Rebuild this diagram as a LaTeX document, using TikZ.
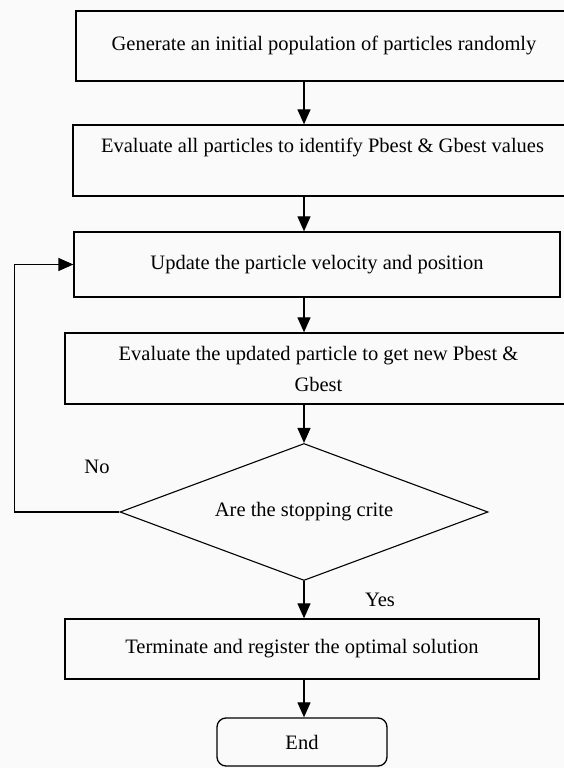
\documentclass[tikz,border=0pt]{standalone}
\usepackage{fontspec}
\setmainfont{Liberation Serif}
\usetikzlibrary{arrows.meta,%
                shapes.geometric}

\begin{document}
\begin{tikzpicture}[x=1pt,y=1pt]
  \tikzstyle{BoxStyle}=[draw,line width=1.3pt,rectangle,align=center,inner sep=0pt,
                        font=\fontsize{20.5}{31}\selectfont]
  \tikzstyle{LabelStyle}=[font=\fontsize{20.5}{31}\selectfont]
  \tikzstyle{EdgeStyle}=[line width=1.3pt,-{Triangle[width=13pt,length=15pt]}]
  \clip (0,0) rectangle (564,768);
  \fill[black!2] (0,0) rectangle (564,768);
  \node[BoxStyle,minimum width=496,minimum height=70] (Init) at (324,722)
    {Generate an initial population of particles randomly};
  \node[BoxStyle,minimum width=499,minimum height=71] (Eval) at (322.5,607.5)
    {Evaluate all particles to identify Pbest \& Gbest values\\ \mbox{}};
  \node[BoxStyle,minimum width=486,minimum height=65] (Update) at (317,503.5)
    {Update the particle velocity and position};
  \node[BoxStyle,minimum width=507,minimum height=71] (EvalNew) at (318.5,399.5)
    {Evaluate the updated particle to get new Pbest \&\\ Gbest};
  \node[BoxStyle,diamond,line width=1.1pt,aspect=2.7,minimum width=368,minimum height=137] (Stop) at (304,256)
    {Are the stopping crite};
  \node[BoxStyle,minimum width=474,minimum height=60] (Term) at (302,119)
    {Terminate and register the optimal solution};
  \node[BoxStyle,rounded corners=9pt,minimum width=170,minimum height=48] (End) at (302,26)
    {End};
  \node[LabelStyle] (No) at (97,301) {No};
  \node[LabelStyle] (Yes) at (380,168) {Yes};
  % flow
  \draw[EdgeStyle] (Init.south -| Stop.north) -- (Eval.north -| Stop.north);
  \draw[EdgeStyle] (Eval.south -| Stop.north) -- (Update.north -| Stop.north);
  \draw[EdgeStyle] (Update.south -| Stop.north) -- (EvalNew.north -| Stop.north);
  \draw[EdgeStyle] (EvalNew.south -| Stop.north) -- (Stop.north);
  \draw[EdgeStyle] (Stop.south) -- (Term.north -| Stop.south);
  \draw[EdgeStyle] (Term.south -| Stop.south) -- (End.north -| Stop.south);
  % loop back
  \draw[EdgeStyle] (Stop.west) -- ++(-105,0) |- (Update.west);
\end{tikzpicture}
\end{document}
